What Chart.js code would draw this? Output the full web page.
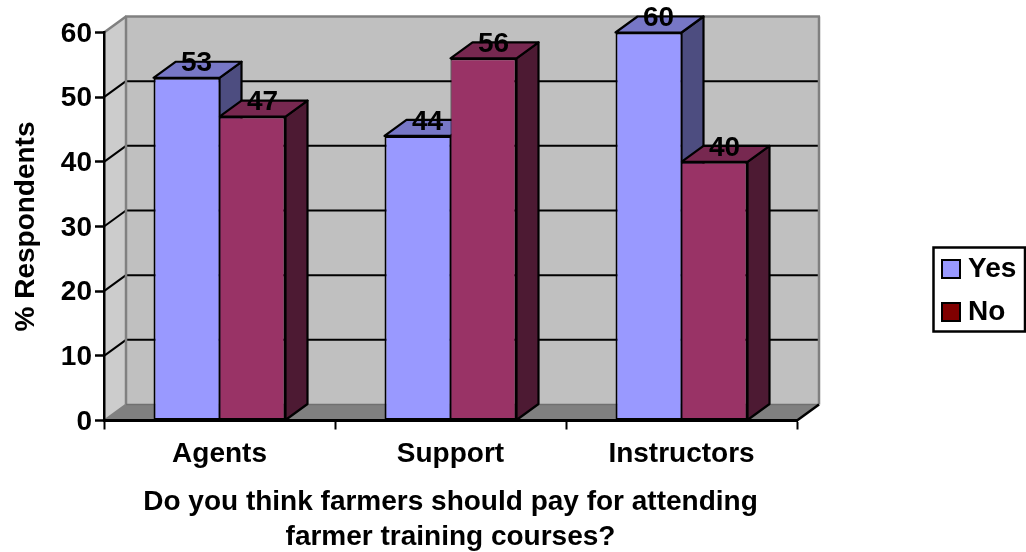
<!DOCTYPE html>
<html>
<head>
<meta charset="utf-8">
<style>html,body{margin:0;padding:0;background:#fff;overflow:hidden}canvas{display:block}</style>
<script src="https://cdn.jsdelivr.net/npm/chart.js@4"></script>
</head>
<body>
<canvas id="c" width="1026" height="552"></canvas>
<script>
const categories = ['Agents', 'Support', 'Instructors'];
const yesValues = [53, 44, 60];
const noValues = [47, 56, 40];
const seriesNames = ['Yes', 'No'];
const xTitle = ['Do you think farmers should pay for attending', 'farmer training courses?'];
const yTitle = '% Respondents';

const FONT = '"Liberation Sans", Arial, sans-serif';
const FS = 28;
const DX = 22, DY = -16;
const faces = [
  {front: '#9999FF', top: '#7777C6', side: '#4D4D80', legend: '#9999FF'},
  {front: '#993366', top: '#772850', side: '#4D1A33', legend: '#800000'}
];

function swatch(color) {
  const cv = document.createElement('canvas');
  cv.width = 20; cv.height = 20;
  const g = cv.getContext('2d');
  g.fillStyle = color; g.fillRect(0, 0, 20, 20);
  g.strokeStyle = '#000'; g.lineWidth = 2; g.strokeRect(1, 1, 18, 18);
  return cv;
}
function poly(ctx, pts, fill, stroke, lw) {
  ctx.beginPath();
  pts.forEach((p, i) => i ? ctx.lineTo(p[0], p[1]) : ctx.moveTo(p[0], p[1]));
  ctx.closePath();
  if (fill) { ctx.fillStyle = fill; ctx.fill(); }
  if (stroke) { ctx.strokeStyle = stroke; ctx.lineWidth = lw; ctx.lineJoin = 'round'; ctx.stroke(); }
}
function seg(ctx, x1, y1, x2, y2, color, lw) {
  ctx.beginPath(); ctx.moveTo(x1, y1); ctx.lineTo(x2, y2);
  ctx.strokeStyle = color; ctx.lineWidth = lw; ctx.stroke();
}

const scene3d = {
  id: 'scene3d',
  afterLayout(chart) {
    const l = chart.legend;
    l.left = 933; l.top = 240; l.right = 1026; l.bottom = 400;
    l.width = 93; l.height = 160;
  },
  beforeDraw(chart) {
    const ctx = chart.ctx, a = chart.chartArea, y = chart.scales.y;
    ctx.save();
    ctx.fillStyle = '#fff'; ctx.fillRect(0, 0, chart.width, chart.height);
    const L = a.left, R = a.right, T = a.top, B = a.bottom;
    // back wall
    poly(ctx, [[L + DX, T + DY], [R + DX, T + DY], [R + DX, B + DY], [L + DX, B + DY]], '#C0C0C0');
    // side wall
    poly(ctx, [[L, T], [L + DX, T + DY], [L + DX, B + DY], [L, B]], '#CCCCCC');
    // floor
    poly(ctx, [[L, B], [R, B], [R + DX, B + DY], [L + DX, B + DY]], '#808080');
    // grid lines on the walls
    y.ticks.forEach(t => {
      const py = y.getPixelForValue(t.value);
      if (t.value === y.min || t.value === y.max) return;
      seg(ctx, L, py, L + DX, py + DY, '#000', 2);
      seg(ctx, L + DX, py + DY, R + DX, py + DY, '#000', 2);
    });
    // wall edges
    const E = '#808080';
    seg(ctx, L, T, L + DX, T + DY, E, 2.5);
    seg(ctx, L + DX - 1, T + DY, R + DX + 1, T + DY, E, 2.5);
    seg(ctx, L + DX, T + DY, L + DX, B + DY, E, 2.5);
    seg(ctx, R + DX, T + DY, R + DX, B + DY, E, 2.5);
    seg(ctx, L, B, L + DX, B + DY, E, 2);
    seg(ctx, L + DX, B + DY, R + DX, B + DY, '#707070', 1.5);
    seg(ctx, R, B, R + DX, B + DY, '#000', 2.5);
    ctx.restore();
  },
  beforeDatasetsDraw(chart) {
    const ctx = chart.ctx;
    ctx.save();
    chart.data.datasets.forEach((ds, di) => {
      chart.getDatasetMeta(di).data.forEach(bar => {
        const p = bar.getProps(['x', 'y', 'base', 'width'], true);
        const l = p.x - p.width / 2, r = p.x + p.width / 2;
        poly(ctx, [[r, p.y], [r + DX, p.y + DY], [r + DX, p.base + DY], [r, p.base]], faces[di].side, '#000', 2.2);
        poly(ctx, [[l, p.y], [l + DX, p.y + DY], [r + DX, p.y + DY], [r, p.y]], faces[di].top, '#000', 2.2);
      });
    });
    ctx.restore();
  },
  afterDatasetsDraw(chart) {
    const ctx = chart.ctx;
    ctx.save();
    ctx.font = 'bold ' + FS + 'px ' + FONT;
    ctx.fillStyle = '#000';
    ctx.textAlign = 'center';
    ctx.textBaseline = 'middle';
    chart.data.datasets.forEach((ds, di) => {
      chart.getDatasetMeta(di).data.forEach((bar, i) => {
        const p = bar.getProps(['x', 'y'], true);
        ctx.fillText(String(ds.data[i]), p.x + DX / 2 - 1, p.y + DY + 2);
      });
    });
    ctx.restore();
  },
  afterDraw(chart) {
    const ctx = chart.ctx;
    ctx.save();
    ctx.strokeStyle = '#000'; ctx.lineWidth = 2.5;
    ctx.strokeRect(933.5, 247.5, 91.5, 84);
    ctx.restore();
  }
};

new Chart(document.getElementById('c'), {
  type: 'bar',
  data: {
    labels: categories,
    datasets: [
      {label: seriesNames[0], data: yesValues, backgroundColor: faces[0].front, borderColor: '#000',
       borderWidth: {top: 2, left: 2, right: 1, bottom: 2}, borderSkipped: false},
      {label: seriesNames[1], data: noValues, backgroundColor: faces[1].front, borderColor: '#000',
       borderWidth: {top: 2, left: 1, right: 2, bottom: 2}, borderSkipped: false}
    ]
  },
  options: {
    responsive: false,
    animation: false,
    devicePixelRatio: 1,
    layout: {padding: {left: 0, top: 32.5, right: 229, bottom: 0}},
    datasets: {bar: {categoryPercentage: 132 / 231, barPercentage: 1}},
    plugins: {
      tooltip: {enabled: false},
      title: {display: false},
      legend: {
        position: 'chartArea',
        align: 'start',
        labels: {
          usePointStyle: true,
          pointStyleWidth: 6,
          boxHeight: 20,
          padding: 15,
          color: '#000',
          font: {family: FONT, size: FS, weight: 'bold'},
          generateLabels(chart) {
            return chart.data.datasets.map((ds, i) => ({
              text: ds.label, datasetIndex: i, fontColor: '#000',
              pointStyle: swatch(faces[i].legend), lineWidth: 0, hidden: false
            }));
          }
        }
      }
    },
    scales: {
      x: {
        type: 'category',
        afterFit(s) { s.height = 131.5; },
        grid: {drawOnChartArea: false, drawTicks: true, tickLength: 9, tickColor: '#000', tickWidth: 2, offset: true},
        border: {display: true, color: '#000', width: 3},
        ticks: {color: '#000', font: {family: FONT, size: FS, weight: 'bold'}, padding: 8, maxRotation: 0, autoSkip: false},
        title: {display: true, text: xTitle, color: '#000', font: {family: FONT, size: FS, weight: 'bold', lineHeight: 1.25}, padding: {top: 0, bottom: -3}}
      },
      y: {
        min: 0, max: 60,
        afterFit(s) { s.width = 104; },
        grid: {drawOnChartArea: false, drawTicks: true, tickLength: 9, tickColor: '#000', tickWidth: 2.5},
        border: {display: true, color: '#000', width: 2.5},
        ticks: {stepSize: 10, color: '#000', font: {family: FONT, size: FS, weight: 'bold'}, padding: 3, labelOffset: 1.5},
        title: {display: true, text: yTitle, color: '#000', font: {family: FONT, size: FS, weight: 'bold'}, padding: {top: 9, bottom: 0}}
      }
    }
  },
  plugins: [scene3d]
});
</script>
</body>
</html>
